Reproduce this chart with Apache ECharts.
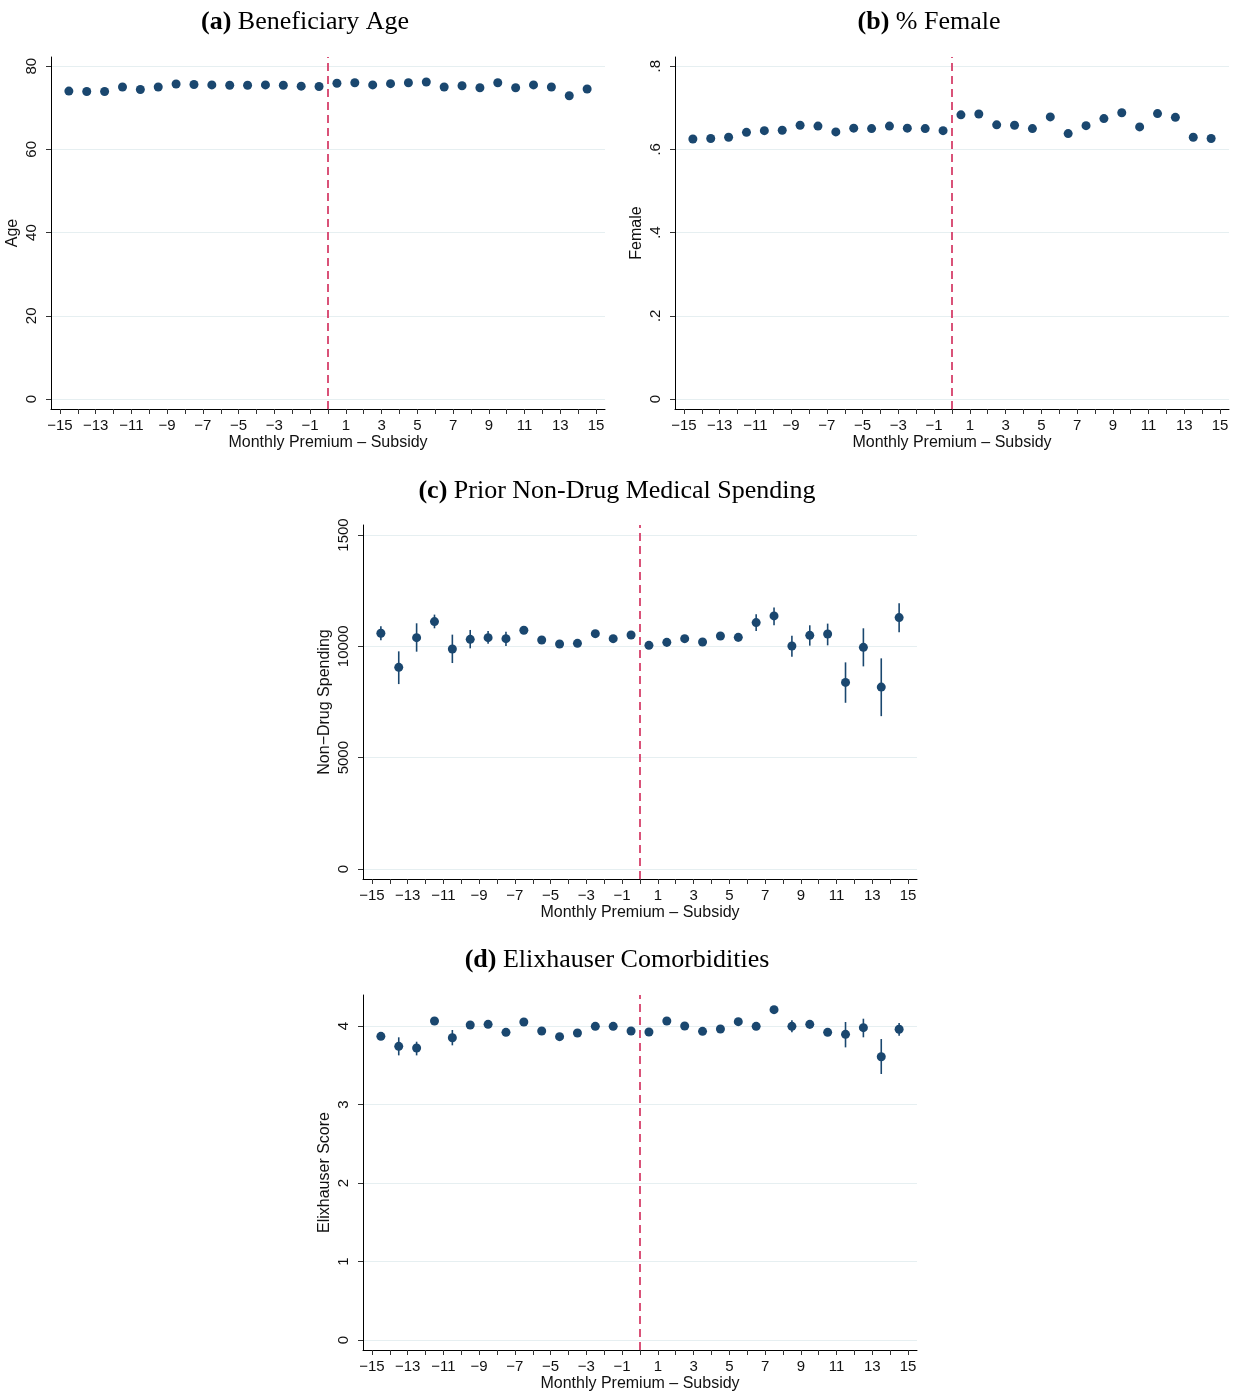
<!DOCTYPE html>
<html>
<head>
<meta charset="utf-8">
<script src="https://cdn.jsdelivr.net/npm/echarts@6/dist/echarts.min.js"></script>
<style>
html,body{margin:0;padding:0;background:#fff;}
#chart{width:1237px;height:1393px;}
</style>
</head>
<body>
<div id="chart"></div>
<script>
// Bin midpoints (Monthly Premium - Subsidy)
const xBins = [-14.5,-13.5,-12.5,-11.5,-10.5,-9.5,-8.5,-7.5,-6.5,-5.5,-4.5,-3.5,-2.5,-1.5,-0.5,
               0.5,1.5,2.5,3.5,4.5,5.5,6.5,7.5,8.5,9.5,10.5,11.5,12.5,13.5,14.5];
const xTicks = [-15,-14,-13,-12,-11,-10,-9,-8,-7,-6,-5,-4,-3,-2,-1,0,1,2,3,4,5,6,7,8,9,10,11,12,13,14,15];
const xLabels = [-15,-13,-11,-9,-7,-5,-3,-1,1,3,5,7,9,11,13,15];

// (a) Beneficiary Age
const ageVals = [74.0,73.9,73.9,75.0,74.4,75.0,75.7,75.6,75.5,75.4,75.4,75.5,75.4,75.2,75.1,
                 75.9,76.0,75.5,75.8,76.0,76.2,75.0,75.3,74.8,76.0,74.8,75.5,75.0,72.9,74.5];
const ageTicks = [0,20,40,60,80];

// (b) % Female
const femaleVals = [0.625,0.626,0.629,0.641,0.645,0.646,0.658,0.656,0.642,0.651,0.650,0.656,0.651,0.650,0.645,
                    0.683,0.685,0.659,0.658,0.650,0.678,0.638,0.657,0.674,0.688,0.654,0.686,0.677,0.629,0.626];
const femaleTicks = [0,0.2,0.4,0.6,0.8];
const femaleTickLabels = ['0','.2','.4','.6','.8'];

// (c) Prior Non-Drug Medical Spending
const spendVals = [10585,9055,10390,11110,9880,10315,10390,10345,10720,10285,10105,10135,10570,10345,10510,
                   10045,10180,10345,10195,10465,10405,11065,11365,10015,10495,10555,8380,9955,8170,11290];
const spendLo = [10270,8305,9760,10810,9250,9910,10120,10015,10570,10135,9990,10010,10440,10230,10400,
                 9930,9985,10220,10080,10310,10215,10690,10945,9535,10030,10045,7465,9100,6865,10630];
const spendHi = [10900,9775,11035,11425,10525,10735,10690,10660,10870,10435,10220,10260,10700,10460,10620,
                 10160,10375,10470,10310,10620,10595,11440,11740,10480,10945,11020,9280,10810,9460,11935];
const spendTicks = [0,5000,10000,15000];
const spendTickLabels = ['0','5000','10000','1500'];

// (d) Elixhauser Comorbidities
const elixVals = [3.868,3.741,3.720,4.064,3.851,4.013,4.021,3.919,4.051,3.936,3.864,3.911,3.996,3.996,3.936,
                  3.924,4.064,4.000,3.932,3.962,4.055,3.996,4.208,3.996,4.021,3.919,3.894,3.979,3.609,3.958];
const elixLo = [3.830,3.626,3.626,4.030,3.754,3.966,3.985,3.885,4.015,3.900,3.830,3.875,3.965,3.965,3.905,
                3.890,4.030,3.965,3.900,3.930,4.020,3.960,4.170,3.920,3.966,3.885,3.728,3.856,3.389,3.877];
const elixHi = [3.905,3.856,3.800,4.100,3.949,4.060,4.055,3.955,4.085,3.970,3.900,3.945,4.030,4.030,3.970,
                3.960,4.100,4.035,3.965,3.995,4.090,4.030,4.245,4.072,4.072,3.955,4.051,4.093,3.834,4.038];
const elixTicks = [0,1,2,3,4];

const titles = [
  {b:'(a)', t:'Beneficiary Age'},
  {b:'(b)', t:'% Female'},
  {b:'(c)', t:'Prior Non-Drug Medical Spending'},
  {b:'(d)', t:'Elixhauser Comorbidities'}
];
const yNames = ['Age','Female','Non\u2212Drug Spending','Elixhauser Score'];
const xName = 'Monthly Premium \u2013 Subsidy';

const NAVY = '#1a476f';
const RED = '#d6406b';
const GRIDC = '#e6eff1';
const SANS = '"Liberation Sans", Arial, Helvetica, sans-serif';
const SERIF = '"Liberation Serif", "Times New Roman", serif';

const grids = [
  {left:51, top:57, width:554, height:352},
  {left:675, top:57, width:554, height:352},
  {left:363, top:525, width:554, height:354},
  {left:363, top:995, width:554, height:355}
];
const yRanges = [[-2.4,82.2],[-0.024,0.822],[-449,15449],[-0.127,4.395]];
const yTickSets = [ageTicks, femaleTicks, spendTicks, elixTicks];
const yFormatters = [
  v => String(v),
  v => femaleTickLabels[femaleTicks.indexOf(Math.round(v*10)/10)] ?? '',
  v => spendTickLabels[spendTicks.indexOf(Math.round(v))] ?? '',
  v => String(v)
];
const titlePos = [[300,4],[924,4],[612,473],[612,942]];

function fmtX(v){ return v < 0 ? '\u2212' + Math.abs(v) : String(v); }

const xAxes = grids.map((g,i)=>({
  gridIndex:i, type:'value', min:-15.5, max:15.5,
  name:xName, nameLocation:'middle', nameGap:26,
  nameTextStyle:{fontFamily:SANS, fontSize:16, color:'#111'},
  axisLine:{show:true, onZero:false, lineStyle:{color:'#000', width:1}},
  axisTick:{show:true, length:5, lineStyle:{color:'#333'}, customValues:xTicks},
  axisLabel:{fontFamily:SANS, fontSize:15, color:'#111', margin:9, customValues:xLabels, formatter:fmtX},
  splitLine:{show:false}
}));
const yAxes = grids.map((g,i)=>({
  gridIndex:i, type:'value', min:yRanges[i][0], max:yRanges[i][1],
  name:yNames[i], nameLocation:'middle', nameGap:30, nameRotate:90,
  nameTextStyle:{fontFamily:SANS, fontSize:16, color:'#111'},
  axisLine:{show:true, onZero:false, lineStyle:{color:'#000', width:1}},
  axisTick:{show:true, length:5, lineStyle:{color:'#333'}, customValues:yTickSets[i]},
  axisLabel:{fontFamily:SANS, fontSize:15, color:'#111', rotate:90, margin:12, customValues:yTickSets[i], formatter:yFormatters[i]},
  splitLine:{show:true, lineStyle:{color:GRIDC, width:1}}
}));

const valSets = [ageVals, femaleVals, spendVals, elixVals];
const series = [];
valSets.forEach((vals,i)=>{
  series.push({
    type:'scatter', xAxisIndex:i, yAxisIndex:i, symbol:'circle', symbolSize:9,
    itemStyle:{color:NAVY, opacity:1}, z:5,
    data: xBins.map((x,k)=>[x, vals[k]]),
    markLine:{
      silent:true, symbol:['none','none'], label:{show:false},
      lineStyle:{color:RED, type:[8,5], width:1.8, opacity:1},
      data:[{xAxis:0}]
    }
  });
});
const ciSets = [[spendLo,spendHi,2],[elixLo,elixHi,3]];
ciSets.forEach(([lo,hi,i])=>{
  series.push({
    type:'custom', xAxisIndex:i, yAxisIndex:i, z:4,
    encode:{x:0, y:[1,2]},
    data: xBins.map((x,k)=>[x, lo[k], hi[k]]),
    renderItem:(params, api)=>{
      const p1 = api.coord([api.value(0), api.value(1)]);
      const p2 = api.coord([api.value(0), api.value(2)]);
      return {type:'line', shape:{x1:p1[0], y1:p1[1], x2:p2[0], y2:p2[1]},
              style:{stroke:NAVY, lineWidth:1.6}};
    }
  });
});

const chart = echarts.init(document.getElementById('chart'), null, {renderer:'canvas'});
chart.setOption({
  animation:false,
  backgroundColor:'#fff',
  title: titles.map((t,i)=>({
    text:'{b|'+t.b+'} {n|'+t.t+'}',
    left:titlePos[i][0], top:titlePos[i][1], textAlign:'center',
    textStyle:{fontWeight:'normal', fontFamily:SERIF, fontSize:26, rich:{
      b:{fontFamily:SERIF, fontSize:26, fontWeight:'bold', color:'#000'},
      n:{fontFamily:SERIF, fontSize:26, fontWeight:'normal', color:'#000'}
    }}
  })),
  grid: grids,
  xAxis: xAxes,
  yAxis: yAxes,
  series: series
});
</script>
</body>
</html>
